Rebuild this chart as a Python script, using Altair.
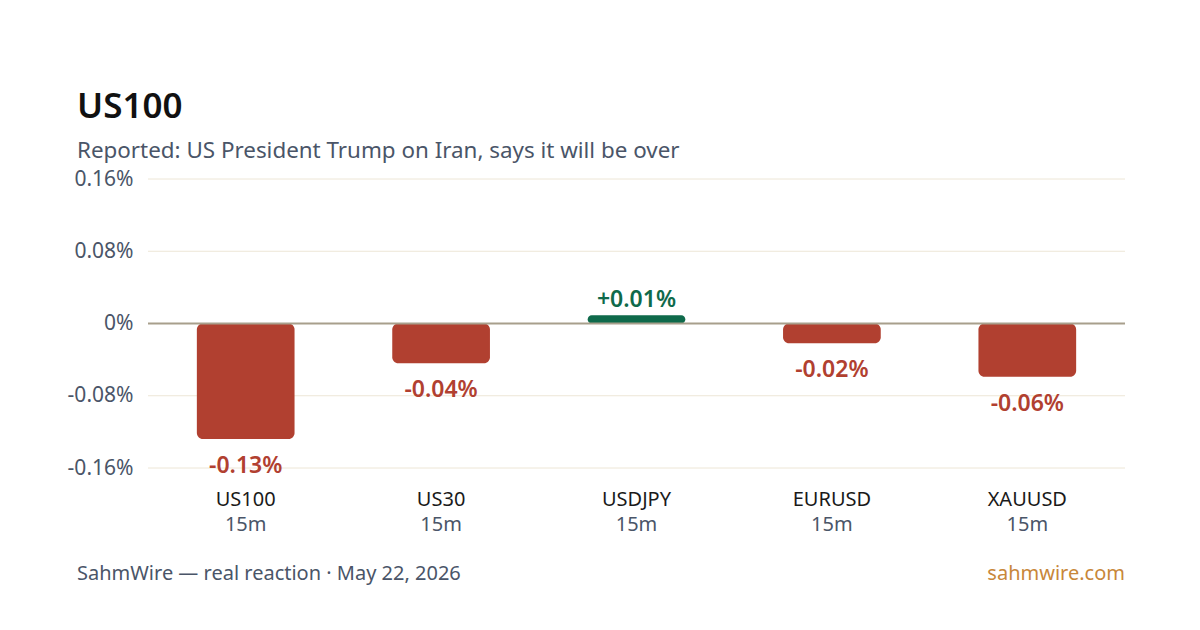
import altair as alt
import pandas as pd

# Market reaction per instrument (percent change over the window)
symbols = ["US100", "US30", "USDJPY", "EURUSD", "XAUUSD"]
windows = ["15m", "15m", "15m", "15m", "15m"]
changes = [-0.128, -0.044, 0.009, -0.022, -0.059]

y_ticks = [-0.16, -0.08, 0, 0.08, 0.16]

headline = ["US100"]
subheadline = ["Reported: US President Trump on Iran, says it will be over"]
footer_left = ["SahmWire \u2014 real reaction \u00b7 May 22, 2026"]
footer_right = ["sahmwire.com"]

RED = "#B14030"
GREEN = "#0F6A4B"
FONT = "Noto Sans"
W, H = 977, 289

df = pd.DataFrame({
    "symbol": symbols,
    "window": windows,
    "change": changes,
})
df["label"] = [f"{v:+.2f}%" for v in changes]
df["dir"] = ["up" if v >= 0 else "down" for v in changes]

x_enc = alt.X("symbol:N", sort=symbols,
              scale=alt.Scale(paddingInner=0.5, paddingOuter=0.25),
              axis=None)
y_scale = alt.Scale(domain=[-0.16, 0.16], nice=False, zero=False)

base = alt.Chart(df)

grid = alt.Chart(pd.DataFrame({"v": y_ticks})).mark_rule(
    color="#EDE6D6", strokeWidth=1
).encode(
    y=alt.Y("v:Q", scale=y_scale,
            axis=alt.Axis(values=y_ticks, grid=False, domain=False, ticks=False,
                          labelPadding=15, labelFontSize=21, labelFont=FONT,
                          labelColor="#4A5568", title=None,
                          labelExpr="datum.value == 0 ? '0%' : (datum.value < 0 ? '-' : '') + format(abs(datum.value), '.2f') + '%'")),
    x=alt.value(0), x2=alt.value(W),
)

bars = base.mark_bar(cornerRadius=6).encode(
    x=x_enc,
    y=alt.Y("change:Q", scale=y_scale),
    y2=alt.datum(0),
    color=alt.Color("dir:N", scale=alt.Scale(domain=["up", "down"], range=[GREEN, RED]), legend=None),
)

zero = alt.Chart(pd.DataFrame({"v": [0]})).mark_rule(
    color="#A89F8C", strokeWidth=2
).encode(
    y=alt.Y("v:Q", scale=y_scale),
    x=alt.value(0), x2=alt.value(W),
)

label_down = base.transform_filter("datum.change < 0").mark_text(
    baseline="top", dy=16, fontSize=23, fontWeight=600, font=FONT
).encode(
    x=x_enc, y=alt.Y("change:Q", scale=y_scale), text="label:N",
    color=alt.value(RED),
)

label_up = base.transform_filter("datum.change >= 0").mark_text(
    baseline="alphabetic", dy=-8, fontSize=23, fontWeight=600, font=FONT
).encode(
    x=x_enc, y=alt.Y("change:Q", scale=y_scale), text="label:N",
    color=alt.value(GREEN),
)

cat_names = base.mark_text(
    baseline="alphabetic", fontSize=20, font=FONT, color="#1A1A1A"
).encode(x=x_enc, y=alt.value(H + 38), text="symbol:N")

cat_windows = base.mark_text(
    baseline="alphabetic", fontSize=20, font=FONT, color="#4A5568"
).encode(x=x_enc, y=alt.value(H + 63), text="window:N")


def text_layer(values, x, y, size, color, weight=400, align="left"):
    return alt.Chart(pd.DataFrame({"t": values})).mark_text(
        align=align, baseline="alphabetic", fontSize=size, fontWeight=weight,
        font=FONT, color=color
    ).encode(text="t:N", x=alt.value(x), y=alt.value(y))


title = text_layer(headline, -71, -61, 35, "#111111", weight=600)
subtitle = text_layer(subheadline, -71, -21, 22.4, "#4A5568")
foot_l = text_layer(footer_left, -71, 401, 20, "#4A5568")
foot_r = text_layer(footer_right, W, 401, 20, "#C8873A", align="right")

chart = alt.layer(
    grid, bars, zero, label_down, label_up, cat_names, cat_windows,
    title, subtitle, foot_l, foot_r,
).properties(
    width=W, height=H,
    autosize=alt.AutoSizeParams(type="none"),
    padding={"left": 148, "top": 179, "right": 75, "bottom": 162},
    background="white",
).configure_view(stroke=None)

chart.save("out.html", embed_options={"renderer": "svg", "actions": False})
